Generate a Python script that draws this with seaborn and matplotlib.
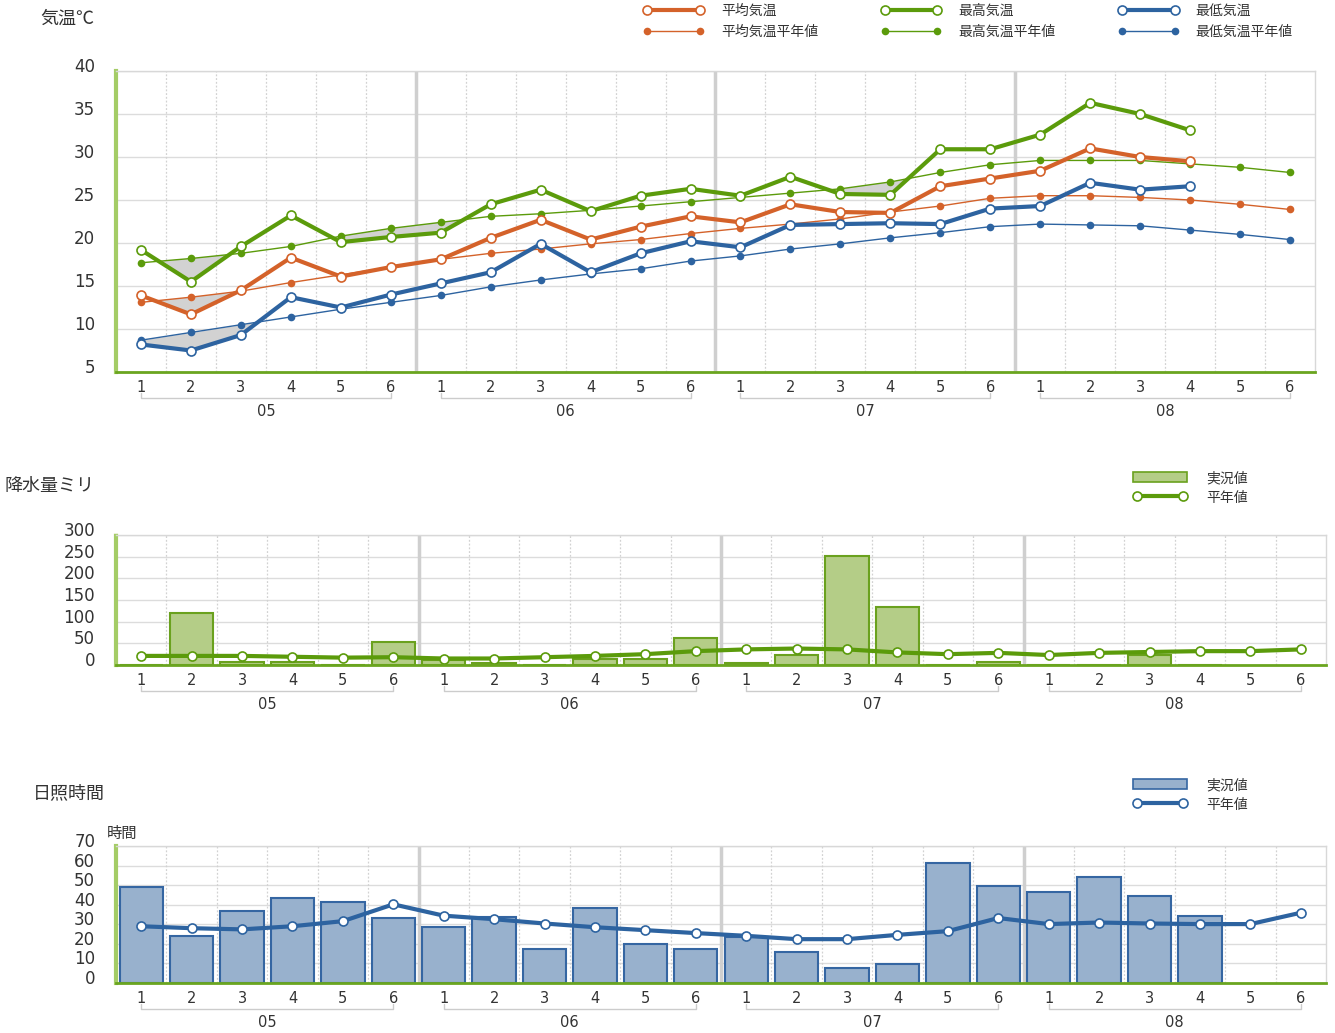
import numpy as np
import pandas as pd
import seaborn as sns
import matplotlib.pyplot as plt
import matplotlib.transforms as mtrans
from matplotlib.lines import Line2D
from matplotlib.patches import Patch

nan = np.nan
months = ['05', '06', '07', '08']
periods = [1, 2, 3, 4, 5, 6] * 4

# temperature (actual / normal)
avg_temp = [13.9, 11.7, 14.5, 18.3, 16.1, 17.2, 18.1, 20.6, 22.7, 20.4, 21.9, 23.1,
            22.4, 24.5, 23.6, 23.5, 26.6, 27.5, 28.4, 31.0, 30.0, 29.5, nan, nan]
avg_norm = [13.1, 13.7, 14.4, 15.4, 16.3, 17.2, 18.1, 18.8, 19.3, 19.9, 20.4, 21.1,
            21.7, 22.2, 22.8, 23.6, 24.3, 25.2, 25.5, 25.5, 25.3, 25.0, 24.5, 23.9]
max_temp = [19.2, 15.5, 19.6, 23.2, 20.1, 20.7, 21.2, 24.5, 26.2, 23.7, 25.5, 26.3,
            25.5, 27.7, 25.7, 25.6, 30.9, 30.9, 32.6, 36.3, 35.0, 33.1, nan, nan]
max_norm = [17.7, 18.2, 18.8, 19.6, 20.8, 21.7, 22.4, 23.1, 23.4, 23.8, 24.3, 24.8,
            25.3, 25.8, 26.3, 27.1, 28.2, 29.1, 29.6, 29.6, 29.6, 29.2, 28.8, 28.2]
min_temp = [8.2, 7.5, 9.3, 13.7, 12.5, 14.0, 15.3, 16.6, 19.9, 16.6, 18.8, 20.2,
            19.5, 22.1, 22.2, 22.3, 22.2, 24.0, 24.3, 27.0, 26.2, 26.6, nan, nan]
min_norm = [8.7, 9.6, 10.5, 11.4, 12.3, 13.1, 13.9, 14.9, 15.7, 16.4, 17.0, 17.9,
            18.5, 19.3, 19.9, 20.6, 21.2, 21.9, 22.2, 22.1, 22.0, 21.5, 21.0, 20.4]

# precipitation mm
rain = [0, 120, 8, 7, 0, 54, 11, 4, 0, 15, 13, 63,
        4, 23, 252, 133, 0, 8, 0, 0, 23, 0, nan, nan]
rain_norm = [21, 21, 21, 19, 17, 18, 15, 15, 18, 21, 25, 32,
             36, 38, 36, 29, 25, 28, 23, 28, 30, 32, 32, 36]

# sunshine hours
sun = [48.9, 24.1, 36.8, 43.4, 41.4, 33.2, 28.5, 33.7, 17.4, 38.3, 20.0, 17.6,
       23.6, 15.9, 7.9, 9.9, 61.2, 49.6, 46.3, 54.0, 44.4, 34.2, nan, nan]
sun_norm = [29.0, 28.0, 27.4, 29.0, 31.6, 40.2, 34.4, 32.6, 30.4, 28.5, 27.0, 25.5,
            24.1, 22.4, 22.4, 24.6, 26.5, 33.2, 30.1, 30.9, 30.4, 30.1, 30.1, 35.9]

orange = '#d4622a'
green = '#5b9b0b'
blue = '#2d63a0'
txt = '#333333'

sns.set_theme(style='white')
plt.rcParams['font.family'] = ['Noto Sans CJK JP', 'DejaVu Sans']

W, H = 1335, 1033
fig = plt.figure(figsize=(W / 100, H / 100), dpi=100)
pos = np.arange(24)


def frame(ax, ylim, yticks, bot_px):
    ax.set_xlim(-0.5, 23.5)
    ax.set_ylim(*ylim)
    ax.set_yticks(yticks)
    ax.set_yticklabels([str(v) for v in yticks], family='DejaVu Sans', fontsize=12, color=txt)
    ax.tick_params(axis='y', length=0, pad=15)
    ax.set_xticks(pos)
    ax.set_xticklabels([str(p) for p in periods], family='DejaVu Sans', fontsize=10.5, color=txt)
    ax.tick_params(axis='x', length=0, pad=6)
    off = mtrans.ScaledTranslation(0, 0.06, fig.dpi_scale_trans)
    for lab in ax.get_yticklabels():
        lab.set_transform(lab.get_transform() + off)
    for v in yticks:
        ax.axhline(v, color='#dcdcdc', lw=1, zorder=0)
    for i in range(23):
        b = i + 0.5
        if i % 6 == 5:
            ax.axvline(b, color='#cfcfcf', lw=2.5, zorder=0)
        else:
            ax.axvline(b, color='#d2d2d2', lw=0.9, ls=(0, (1.5, 1.5)), zorder=0)
    for s in ['top', 'right']:
        ax.spines[s].set_color('#d8d8d8')
        ax.spines[s].set_linewidth(1)
    ax.spines['left'].set_color('#a4cc66')
    ax.spines['left'].set_linewidth(3)
    ax.spines['left'].set_linestyle((0, (1, 1)))
    ax.spines['bottom'].set_color('#6aa51f')
    ax.spines['bottom'].set_linewidth(2)
    ax.spines['bottom'].set_zorder(5)
    # month brackets below the period ticks
    tr = mtrans.blended_transform_factory(ax.transData, fig.dpi_scale_trans)
    ybase = (H - bot_px) / 100
    for m, name in enumerate(months):
        x0, x1 = m * 6, m * 6 + 5
        yl = ybase - 0.26
        ax.plot([x0, x0, x1, x1], [yl + 0.05, yl, yl, yl + 0.05], color='#cccccc', lw=1,
                transform=tr, clip_on=False)
        ax.text(m * 6 + 2.5, ybase - 0.395, name, transform=tr, ha='center', va='center',
                family='DejaVu Sans', fontsize=10.5, color=txt)


def axes_at(left, top, right, bottom):
    return fig.add_axes([left / W, 1 - bottom / H, (right - left) / W, (bottom - top) / H])


def act_h(c):
    return Line2D([], [], color=c, lw=3, marker='o', markersize=6.5, markerfacecolor='white',
                  markeredgecolor=c, markeredgewidth=1.2)


def norm_h(c):
    return Line2D([], [], color=c, lw=1, marker='o', markersize=5.5, markeredgewidth=0)


# ---- temperature
ax1 = axes_at(116, 71, 1315, 372)
frame(ax1, (5, 40), list(range(5, 41, 5)), 372)
for act, norm, c, z in [(min_temp, min_norm, blue, 3), (avg_temp, avg_norm, orange, 4),
                        (max_temp, max_norm, green, 5)]:
    a = np.array(act)
    n = np.array(norm)
    ok = ~np.isnan(a)
    ax1.fill_between(pos[ok], a[ok], n[ok], where=a[ok] < n[ok], interpolate=True,
                     color='#d2d2d2', lw=0, zorder=1)
    sns.lineplot(x=pos, y=n, ax=ax1, color=c, lw=1, marker='o', markersize=5.5,
                 markeredgewidth=0, legend=False, zorder=z)
    sns.lineplot(x=pos[ok], y=a[ok], ax=ax1, color=c, lw=3, marker='o', markersize=6.5,
                 markerfacecolor='white', markeredgecolor=c, markeredgewidth=1.2,
                 legend=False, zorder=z + 3)
ax1.set_xlabel('')
ax1.set_ylabel('')
fig.text(40 / W, 1 - 19 / H, '気温℃', fontsize=13, color=txt, va='center', ha='left')

handles = [act_h(orange), norm_h(orange), act_h(green), norm_h(green), act_h(blue), norm_h(blue)]
labels = ['平均気温', '平均気温平年値', '最高気温', '最高気温平年値', '最低気温', '最低気温平年値']
fig.legend(handles, labels, ncol=3, loc='upper left', bbox_to_anchor=(643 / W, 1 - 4 / H),
           frameon=False, fontsize=10, handlelength=4.4, handletextpad=1.2, columnspacing=4.5,
           labelspacing=0.5, borderpad=0, borderaxespad=0, numpoints=2, labelcolor=txt)

# ---- precipitation
ax2 = axes_at(116, 535, 1326, 665)
frame(ax2, (0, 300), list(range(0, 301, 50)), 665)
df_rain = pd.DataFrame({'pos': pos, 'rain': rain}).dropna()
sns.barplot(data=df_rain, x='pos', y='rain', native_scale=True, width=0.86, color='#b4cd87',
            edgecolor='#6aa11e', linewidth=1.5, saturation=1, errorbar=None, ax=ax2, zorder=2)
sns.lineplot(x=pos, y=rain_norm, ax=ax2, color=green, lw=3, marker='o', markersize=6.5,
             markerfacecolor='white', markeredgecolor=green, markeredgewidth=1.2,
             legend=False, zorder=4)
ax2.set_xlim(-0.5, 23.5)
ax2.set_xticks(pos)
ax2.set_xticklabels([str(p) for p in periods], family='DejaVu Sans', fontsize=10.5, color=txt)
ax2.set_xlabel('')
ax2.set_ylabel('')
fig.text(5 / W, 1 - 486 / H, '降水量ミリ', fontsize=13, color=txt, va='center', ha='left')
fig.legend([Patch(facecolor='#b4cd87', edgecolor='#6aa11e', lw=1.2), act_h(green)],
           ['実況値', '平年値'], loc='upper left', bbox_to_anchor=(1133 / W, 1 - 471 / H),
           frameon=False, fontsize=10, handlelength=3.9, handleheight=0.8, handletextpad=1.4,
           labelspacing=0.4, borderpad=0, borderaxespad=0, numpoints=2, labelcolor=txt)

# ---- sunshine
ax3 = axes_at(116, 846, 1326, 983)
frame(ax3, (0, 70), list(range(0, 71, 10)), 983)
df_sun = pd.DataFrame({'pos': pos, 'sun': sun}).dropna()
sns.barplot(data=df_sun, x='pos', y='sun', native_scale=True, width=0.86, color='#98b1cd',
            edgecolor='#3566a2', linewidth=1.5, saturation=1, errorbar=None, ax=ax3, zorder=2)
sns.lineplot(x=pos, y=sun_norm, ax=ax3, color=blue, lw=3, marker='o', markersize=6.5,
             markerfacecolor='white', markeredgecolor=blue, markeredgewidth=1.2,
             legend=False, zorder=4)
ax3.set_xlim(-0.5, 23.5)
ax3.set_xticks(pos)
ax3.set_xticklabels([str(p) for p in periods], family='DejaVu Sans', fontsize=10.5, color=txt)
ax3.set_xlabel('')
ax3.set_ylabel('')
fig.text(33 / W, 1 - 793 / H, '日照時間', fontsize=13, color=txt, va='center', ha='left')
fig.text(107 / W, 1 - 833 / H, '時間', fontsize=11, color=txt, va='center', ha='left')
fig.legend([Patch(facecolor='#98b1cd', edgecolor='#3566a2', lw=1.2), act_h(blue)],
           ['実況値', '平年値'], loc='upper left', bbox_to_anchor=(1133 / W, 1 - 778 / H),
           frameon=False, fontsize=10, handlelength=3.9, handleheight=0.8, handletextpad=1.4,
           labelspacing=0.4, borderpad=0, borderaxespad=0, numpoints=2, labelcolor=txt)

fig.savefig('out.png', dpi=100)
